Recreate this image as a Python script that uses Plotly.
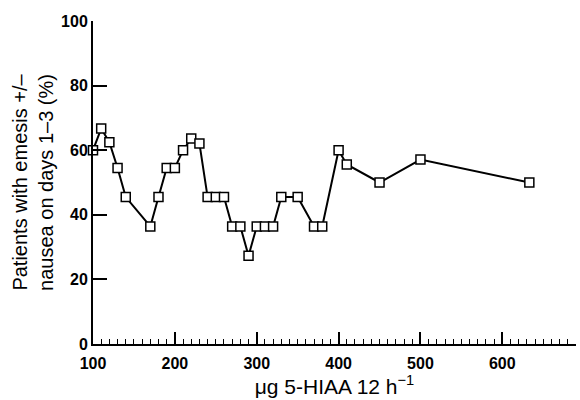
import plotly.graph_objects as go

hiaa = [100, 110, 120, 130, 140, 170, 180, 190, 200, 210, 220, 230, 240, 250, 260,
        270, 280, 290, 300, 310, 320, 330, 350, 370, 380, 400, 410, 450, 500, 633]
pct = [60, 66.7, 62.5, 54.5, 45.5, 36.4, 45.5, 54.5, 54.5, 60, 63.6, 62.1, 45.5, 45.5, 45.5,
       36.4, 36.4, 27.3, 36.4, 36.4, 36.4, 45.5, 45.5, 36.4, 36.4, 60, 55.6, 50, 57.1, 50]

x_ticks = [100, 200, 300, 400, 500, 600]
y_ticks = [0, 20, 40, 60, 80, 100]

FAM = "Liberation Sans, Arial, sans-serif"

fig = go.Figure()
fig.add_trace(go.Scatter(
    x=hiaa, y=pct, mode="lines+markers",
    line=dict(color="black", width=2),
    marker=dict(symbol="square", size=9, color="white",
                line=dict(color="black", width=1.5)),
    cliponaxis=False, showlegend=False,
))

fig.update_layout(
    width=580, height=400,
    margin=dict(l=93, r=4, t=21, b=56),
    paper_bgcolor="white", plot_bgcolor="white",
    font=dict(family=FAM, color="black"),
    xaxis=dict(
        range=[100, 690], tickvals=x_ticks, ticktext=[f"<b>{v}</b>" for v in x_ticks],
        ticks="inside", ticklen=12, tickwidth=1.5, tickcolor="black",
        minor=dict(ticks="inside", ticklen=5, dtick=10, tick0=100, tickwidth=1, tickcolor="black"),
        showline=True, linecolor="black", linewidth=2, showgrid=False, zeroline=False,
        tickfont=dict(size=16, family=FAM, color="black"),
        ticklabelstandoff=4,
        title=dict(text="μg 5-HIAA 12 h<sup>−1</sup>", font=dict(size=21, family=FAM, color="black"), standoff=3),
    ),
    yaxis=dict(
        range=[0, 100], tickvals=y_ticks, ticktext=[f"<b>{v}</b>" for v in y_ticks],
        ticks="inside", ticklen=14, tickwidth=1.5, tickcolor="black",
        showline=True, linecolor="black", linewidth=2, showgrid=False, zeroline=False,
        tickfont=dict(size=16, family=FAM, color="black"),
        title=dict(text="Patients with emesis +/–<br>nausea on days 1–3 (%)", font=dict(size=20, family=FAM, color="black"), standoff=2),
    ),
)
fig.write_html("out.html")
